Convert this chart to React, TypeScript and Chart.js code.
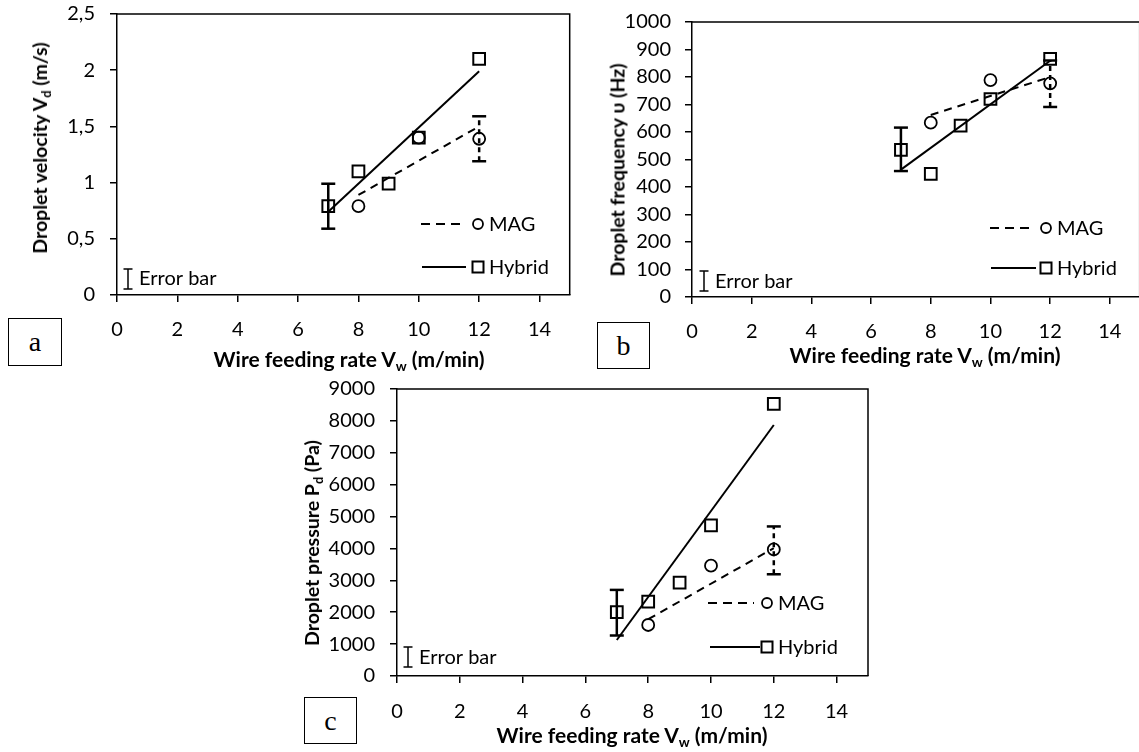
import React, { useEffect, useRef } from "react";
import { Chart, registerables } from "chart.js";

Chart.register(...registerables);

const FONT = "Lato, 'Open Sans', sans-serif";

// ---------- shared x axis ----------
const xTickValues = [0, 2, 4, 6, 8, 10, 12, 14];
const xAxisMax = 15;

// ---------- (a) droplet velocity (m/s) ----------
const velYMax = 2.5;
const velYStep = 0.5;
const velMagX = [8, 10, 12];
const velMagY = [0.79, 1.4, 1.39];
const velHybX = [7, 8, 9, 10, 12];
const velHybY = [0.79, 1.1, 0.99, 1.4, 2.1];
const velMagFitX = [8, 12];
const velMagFitY = [0.89, 1.5];
const velHybFitX = [7, 12];
const velHybFitY = [0.74, 1.99];
const velErrX = [7, 12];
const velErrLow = [0.59, 1.19];
const velErrHigh = [0.99, 1.59];
const velErrDashed = [false, true];

// ---------- (b) droplet frequency (Hz) ----------
const freqYMax = 1000;
const freqYStep = 100;
const freqMagX = [8, 10, 12];
const freqMagY = [634, 789, 777];
const freqHybX = [7, 8, 9, 10, 12];
const freqHybY = [535, 448, 623, 720, 866];
const freqMagFitX = [8, 12];
const freqMagFitY = [662, 800];
const freqHybFitX = [7, 12];
const freqHybFitY = [463, 859];
const freqErrX = [7, 12];
const freqErrLow = [458, 691];
const freqErrHigh = [616, 860];
const freqErrDashed = [false, true];

// ---------- (c) droplet pressure (Pa) ----------
const presYMax = 9000;
const presYStep = 1000;
const presMagX = [8, 10, 12];
const presMagY = [1600, 3460, 3970];
const presHybX = [7, 8, 9, 10, 12];
const presHybY = [2000, 2330, 2930, 4720, 8530];
const presMagFitX = [8, 12];
const presMagFitY = [1780, 4010];
const presHybFitX = [7, 12];
const presHybFitY = [1130, 7870];
const presErrX = [7, 12];
const presErrLow = [1270, 3190];
const presErrHigh = [2700, 4690];
const presErrDashed = [false, true];

type Layout = {
  left: number; top: number; width: number; height: number;
  area: { left: number; top: number; right: number; bottom: number };
  xPad: number; yPad: number;
  leg: { magDy: number; hybDy: number; magL: [number, number]; hybL: [number, number]; mk: number; tx: number };
  err: { x: number; y1: number; y2: number; tx: number; ty: number };
};

type Series = {
  yMax: number; yStep: number; comma: boolean;
  magX: number[]; magY: number[]; hybX: number[]; hybY: number[];
  magFitX: number[]; magFitY: number[]; hybFitX: number[]; hybFitY: number[];
  errX: number[]; errLow: number[]; errHigh: number[]; errDashed: boolean[];
};

const pts = (xs: number[], ys: number[]) => xs.map((x, i) => ({ x, y: ys[i] }));

function makeConfig(s: Series, L: Layout): any {
  const overlay = {
    id: "overlay",
    beforeDatasetsDraw(chart: any) {
      const { ctx, chartArea: a } = chart;
      ctx.save();
      ctx.strokeStyle = "#000";
      ctx.lineWidth = 1.5;
      ctx.beginPath();
      ctx.moveTo(a.left, a.top);
      ctx.lineTo(a.right, a.top);
      ctx.lineTo(a.right, a.bottom);
      ctx.stroke();
      ctx.restore();
    },
    afterDatasetsDraw(chart: any) {
      const { ctx, chartArea: a } = chart;
      const xs = chart.scales.x;
      const ys = chart.scales.y;
      const line = (x1: number, y1: number, x2: number, y2: number) => {
        ctx.beginPath();
        ctx.moveTo(x1, y1);
        ctx.lineTo(x2, y2);
        ctx.stroke();
      };
      ctx.save();
      ctx.strokeStyle = "#000";
      ctx.fillStyle = "#000";
      // error bars
      s.errX.forEach((xv, i) => {
        const px = xs.getPixelForValue(xv);
        const p1 = ys.getPixelForValue(s.errLow[i]);
        const p2 = ys.getPixelForValue(s.errHigh[i]);
        ctx.lineWidth = 2.5;
        ctx.setLineDash(s.errDashed[i] ? [5, 4] : []);
        line(px, p1, px, p2);
        ctx.setLineDash([]);
        line(px - 7, p1, px + 7, p1);
        line(px - 7, p2, px + 7, p2);
      });
      // in-plot legend
      const lg = L.leg;
      const my = a.bottom - lg.magDy;
      const hy = a.bottom - lg.hybDy;
      ctx.lineWidth = 2;
      ctx.setLineDash([9, 6]);
      line(a.left + lg.magL[0], my, a.left + lg.magL[1], my);
      ctx.setLineDash([]);
      line(a.left + lg.hybL[0], hy, a.left + lg.hybL[1], hy);
      ctx.lineWidth = 1.8;
      ctx.beginPath();
      ctx.arc(a.left + lg.mk, my, 5, 0, Math.PI * 2);
      ctx.stroke();
      ctx.lineWidth = 2;
      ctx.strokeRect(a.left + lg.mk - 5.5, hy - 5.5, 11, 11);
      ctx.font = `20px ${FONT}`;
      ctx.textAlign = "left";
      ctx.textBaseline = "middle";
      ctx.fillText("MAG", a.left + lg.tx, my + 1);
      ctx.fillText("Hybrid", a.left + lg.tx, hy + 1);
      // error bar legend
      const e = L.err;
      ctx.lineWidth = 1.5;
      const ex = a.left + e.x;
      line(ex, a.bottom - e.y1, ex, a.bottom - e.y2);
      line(ex - 4.5, a.bottom - e.y1, ex + 4.5, a.bottom - e.y1);
      line(ex - 4.5, a.bottom - e.y2, ex + 4.5, a.bottom - e.y2);
      ctx.fillText("Error bar", a.left + e.tx, a.bottom - e.ty + 1);
      ctx.restore();
    },
  };

  const xH = L.height - L.area.bottom;
  const yW = L.area.left;
  return {
    type: "scatter",
    data: {
      datasets: [
        {
          label: "MAG fit",
          data: pts(s.magFitX, s.magFitY),
          showLine: true,
          borderColor: "#000",
          borderWidth: 2,
          borderDash: [8, 6],
          pointRadius: 0,
        },
        {
          label: "Hybrid fit",
          data: pts(s.hybFitX, s.hybFitY),
          showLine: true,
          borderColor: "#000",
          borderWidth: 2,
          pointRadius: 0,
        },
        {
          label: "MAG",
          data: pts(s.magX, s.magY),
          pointStyle: "circle",
          pointRadius: 6,
          pointBorderWidth: 1.8,
          borderColor: "#000",
          backgroundColor: "rgba(0,0,0,0)",
        },
        {
          label: "Hybrid",
          data: pts(s.hybX, s.hybY),
          pointStyle: "rect",
          pointRadius: 8.3,
          pointBorderWidth: 2,
          borderColor: "#000",
          backgroundColor: "rgba(0,0,0,0)",
        },
      ],
    },
    options: {
      animation: false,
      responsive: false,
      maintainAspectRatio: false,
      events: [],
      devicePixelRatio: 1,
      layout: { padding: { left: 0, top: L.area.top, right: L.width - L.area.right, bottom: 0 } },
      plugins: { legend: { display: false }, tooltip: { enabled: false }, title: { display: false } },
      scales: {
        x: {
          type: "linear",
          min: 0,
          max: xAxisMax,
          afterBuildTicks: (sc: any) => {
            sc.ticks = xTickValues.map((v) => ({ value: v }));
          },
          afterFit: (sc: any) => {
            sc.height = xH;
            sc.paddingLeft = 0;
            sc.paddingRight = 0;
            sc.paddingTop = 0;
            sc.paddingBottom = 0;
          },
          grid: { display: true, drawOnChartArea: false, drawTicks: true, tickLength: 7, color: "#000", lineWidth: 1.5 },
          border: { display: true, color: "#000", width: 1.5 },
          ticks: { color: "#000", font: { family: FONT, size: 20 }, padding: L.xPad, maxRotation: 0, autoSkip: false },
        },
        y: {
          type: "linear",
          min: 0,
          max: s.yMax,
          afterFit: (sc: any) => {
            sc.width = yW;
            sc.paddingLeft = 0;
            sc.paddingRight = 0;
            sc.paddingTop = 0;
            sc.paddingBottom = 0;
          },
          grid: { display: true, drawOnChartArea: false, drawTicks: true, tickLength: 7, color: "#000", lineWidth: 1.5 },
          border: { display: true, color: "#000", width: 1.5 },
          ticks: {
            stepSize: s.yStep,
            autoSkip: false,
            color: "#000",
            font: { family: FONT, size: 20 },
            padding: L.yPad,
            callback: (v: number) => (s.comma ? String(v).replace(".", ",") : String(v)),
          },
        },
      },
    },
    plugins: [overlay],
  };
}

const velSeries: Series = {
  yMax: velYMax, yStep: velYStep, comma: true,
  magX: velMagX, magY: velMagY, hybX: velHybX, hybY: velHybY,
  magFitX: velMagFitX, magFitY: velMagFitY, hybFitX: velHybFitX, hybFitY: velHybFitY,
  errX: velErrX, errLow: velErrLow, errHigh: velErrHigh, errDashed: velErrDashed,
};
const freqSeries: Series = {
  yMax: freqYMax, yStep: freqYStep, comma: false,
  magX: freqMagX, magY: freqMagY, hybX: freqHybX, hybY: freqHybY,
  magFitX: freqMagFitX, magFitY: freqMagFitY, hybFitX: freqHybFitX, hybFitY: freqHybFitY,
  errX: freqErrX, errLow: freqErrLow, errHigh: freqErrHigh, errDashed: freqErrDashed,
};
const presSeries: Series = {
  yMax: presYMax, yStep: presYStep, comma: false,
  magX: presMagX, magY: presMagY, hybX: presHybX, hybY: presHybY,
  magFitX: presMagFitX, magFitY: presMagFitY, hybFitX: presHybFitX, hybFitY: presHybFitY,
  errX: presErrX, errLow: presErrLow, errHigh: presErrHigh, errDashed: presErrDashed,
};

const layoutA: Layout = {
  left: 0, top: 0, width: 580, height: 372,
  area: { left: 117, top: 14, right: 577, bottom: 295 },
  xPad: 16, yPad: 15,
  leg: { magDy: 71, hybDy: 28, magL: [304, 344], hybL: [305, 349], mk: 361, tx: 372 },
  err: { x: 11, y1: 26, y2: 6, tx: 22, ty: 17 },
};
const layoutB: Layout = {
  left: 580, top: 0, width: 570, height: 372,
  area: { left: 112, top: 22, right: 563, bottom: 297 },
  xPad: 16, yPad: 14,
  leg: { magDy: 69, hybDy: 29, magL: [298, 341], hybL: [299, 344], mk: 354, tx: 365 },
  err: { x: 12, y1: 26, y2: 6, tx: 23, ty: 16 },
};
const layoutC: Layout = {
  left: 290, top: 370, width: 590, height: 382,
  area: { left: 107, top: 19, right: 578, bottom: 306 },
  xPad: 17, yPad: 15,
  leg: { magDy: 73, hybDy: 29, magL: [311, 357], hybL: [313, 363], mk: 370, tx: 381 },
  err: { x: 11, y1: 29, y2: 9, tx: 22, ty: 19 },
};

function Plot({ series, layout }: { series: Series; layout: Layout }) {
  const ref = useRef<HTMLCanvasElement | null>(null);
  useEffect(() => {
    if (!ref.current) return;
    const chart = new Chart(ref.current, makeConfig(series, layout));
    return () => chart.destroy();
  }, [series, layout]);
  return (
    <div style={{ position: "absolute", left: layout.left, top: layout.top, width: layout.width, height: layout.height }}>
      <canvas ref={ref} width={layout.width} height={layout.height} style={{ width: layout.width, height: layout.height, display: "block" }} />
    </div>
  );
}

const titleBase: React.CSSProperties = {
  position: "absolute",
  fontFamily: FONT,
  fontWeight: 700,
  fontSize: 21,
  lineHeight: "25px",
  whiteSpace: "nowrap",
  color: "#000",
};
const subStyle: React.CSSProperties = { fontSize: "0.65em", position: "relative", top: "0.3em" };

function XTitle({ cx, top }: { cx: number; top: number }) {
  return (
    <div style={{ ...titleBase, left: cx, top, transform: "translateX(-50%)" }}>
      Wire feeding rate V<span style={subStyle}>w</span> (m/min)
    </div>
  );
}

function YTitle({ cx, cy, children }: { cx: number; cy: number; children: React.ReactNode }) {
  return (
    <div
      style={{
        ...titleBase,
        fontSize: 19.5,
        lineHeight: "23px",
        left: cx,
        top: cy,
        transform: "translate(-50%, -50%) rotate(-90deg)",
      }}
    >
      {children}
    </div>
  );
}

function Tag({ left, top, w, h, text }: { left: number; top: number; w: number; h: number; text: string }) {
  return (
    <div
      style={{
        position: "absolute",
        left,
        top,
        width: w,
        height: h,
        boxSizing: "border-box",
        border: "1.5px solid #000",
        display: "flex",
        alignItems: "center",
        justifyContent: "center",
        fontFamily: "'Liberation Serif', 'DejaVu Serif', serif",
        fontSize: 28,
        color: "#000",
        background: "#fff",
      }}
    >
      {text}
    </div>
  );
}

export default function App() {
  return (
    <div style={{ position: "absolute", left: 0, top: 0, width: 1139, height: 752, overflow: "hidden", background: "#fff" }}>
      <Plot series={velSeries} layout={layoutA} />
      <Plot series={freqSeries} layout={layoutB} />
      <Plot series={presSeries} layout={layoutC} />

      <XTitle cx={349} top={346} />
      <XTitle cx={925} top={342} />
      <XTitle cx={632} top={722} />

      <YTitle cx={41} cy={148}>
        Droplet velocity V<span style={subStyle}>d</span> (m/s)
      </YTitle>
      <YTitle cx={617} cy={170}>
        Droplet frequency υ (Hz)
      </YTitle>
      <YTitle cx={313} cy={543}>
        Droplet pressure P<span style={subStyle}>d</span> (Pa)
      </YTitle>

      <Tag left={8} top={318} w={54} h={48} text="a" />
      <Tag left={597} top={322} w={53} h={47} text="b" />
      <Tag left={304} top={697} w={53} h={47} text="c" />
    </div>
  );
}
